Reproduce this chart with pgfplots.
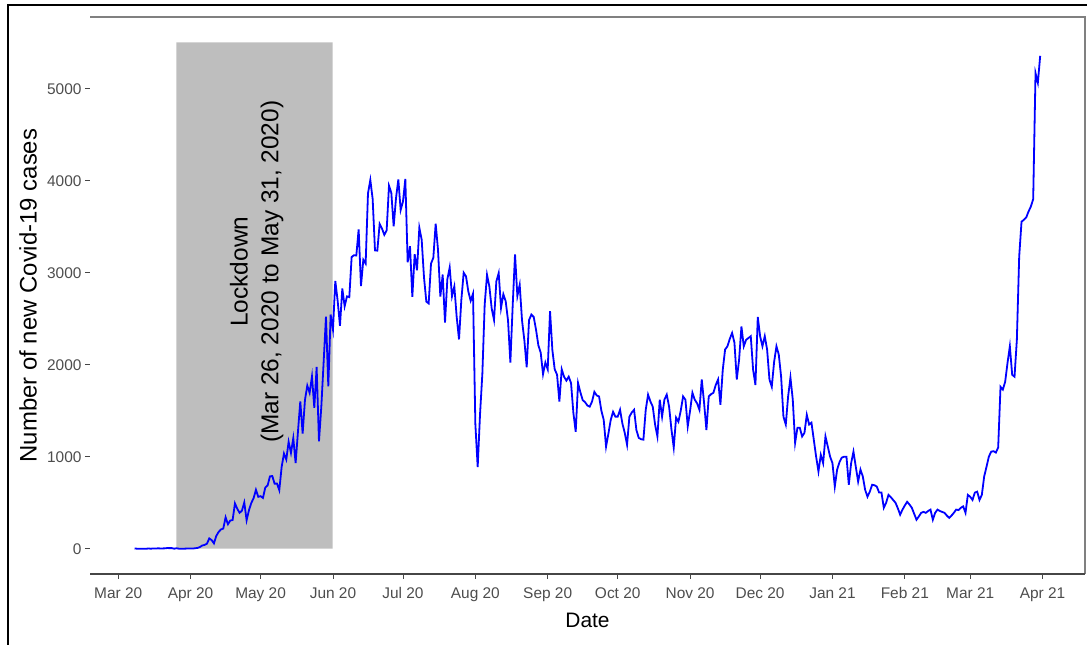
\documentclass[border=0pt]{standalone}
\usepackage{fontspec}
\setmainfont{Liberation Sans}
\usepackage{pgfplots}
\pgfplotsset{compat=1.18}
\definecolor{lockgray}{RGB}{190,190,190}
\definecolor{tickgray}{RGB}{77,77,77}
\definecolor{axgray}{RGB}{70,70,70}
\definecolor{framegray}{RGB}{128,128,128}
\begin{document}
\begin{tikzpicture}
\useasboundingbox (0bp,0bp) rectangle (1087bp,645bp);
\draw[black, line width=1.5bp] (8bp,0bp) -- (8bp,640bp) -- (1087bp,640bp);
\begin{axis}[
  at={(90bp,71bp)}, anchor=south west,
  scale only axis, width=995bp, height=557bp,
  xmin=-12.1, xmax=414.2, ymin=-275, ymax=5780,
  axis line style={draw=none},
  tick pos=left, tick align=outside,
  major tick length=5bp,
  every tick/.style={axgray, line width=0.9bp},
  xtick={0,31,61,92,122,153,184,214,245,275,306,337,365,396},
  xticklabels={Mar 20, Apr 20, May 20, Jun 20, Jul 20, Aug 20, Sep 20, Oct 20, Nov 20, Dec 20, Jan 21, Feb 21, Mar 21, Apr 21},
  ytick={0,1000,2000,3000,4000,5000},
  scaled y ticks=false,
  /pgf/number format/assume math mode=true,
  /pgf/number format/1000 sep={},
  ticklabel style={font=\fontsize{15.5}{18}\selectfont, text=tickgray},
  xticklabel style={yshift=-5bp},
  xlabel={Date},
  ylabel={Number of new Covid-19 cases},
  xlabel style={font=\fontsize{21}{24}\selectfont, at={(axis description cs:0.5,-0.0826)}, anchor=center},
  ylabel style={font=\fontsize{24}{28}\selectfont, at={(axis description cs:-0.0623,0.5)}, anchor=center},
  clip=false,
]
\addplot[draw=none, fill=lockgray] coordinates {(24.9,0) (24.9,5505) (91.8,5505) (91.8,0) (24.9,0)};
\node[rotate=90, align=center, font=\fontsize{24.5}{31}\selectfont] at (axis cs:59.3,3011) {Lockdown\\(Mar 26, 2020 to May 31, 2020)};
\addplot[blue, line width=1.8bp, mark=none] coordinates {
(7,3)(8,0)(9,0)(10,0)(11,0)(12,0)(13,2)(14,0)(15,3)(16,2)(17,4)(18,3)(19,3)(20,4)(21,7)(22,6)(23,6)(24,0)(25,5)(26,0)(27,0)(28,0)(29,1)(30,2)
(31,3)(32,2)(33,5)(34,9)(35,18)(36,35)(37,41)(38,54)(39,112)(40,94)(41,58)(42,139)(43,182)(44,209)(45,219)(46,341)(47,266)(48,306)(49,312)(50,492)(51,434)(52,390)(53,414)(54,503)(55,309)(56,418)(57,497)(58,549)(59,641)(60,564)
(61,571)(62,552)(63,665)(64,688)(65,786)(66,790)(67,706)(68,709)(69,636)(70,887)(71,1034)(72,969)(73,1162)(74,1041)(75,1202)(76,930)(77,1273)(78,1602)(79,1251)(80,1617)(81,1773)(82,1694)(83,1873)(84,1532)(85,1975)(86,1166)(87,1541)(88,2029)(89,2523)(90,1764)(91,2545)
(92,2381)(93,2911)(94,2695)(95,2423)(96,2828)(97,2635)(98,2743)(99,2735)(100,3171)(101,3190)(102,3187)(103,3471)(104,2856)(105,3141)(106,3099)(107,3862)(108,4008)(109,3803)(110,3243)(111,3240)(112,3531)(113,3480)(114,3412)(115,3462)(116,3946)(117,3868)(118,3504)(119,3809)(120,4014)(121,3682)
(122,3775)(123,4019)(124,3114)(125,3288)(126,2738)(127,3201)(128,3027)(129,3489)(130,3360)(131,2949)(132,2686)(133,2666)(134,3099)(135,3163)(136,3533)(137,3250)(138,2740)(139,2980)(140,2459)(141,2928)(142,3057)(143,2744)(144,2850)(145,2520)(146,2275)(147,2705)(148,3000)(149,2960)(150,2795)(151,2695)(152,2772)
(153,1356)(154,887)(155,1459)(156,1900)(157,2654)(158,2977)(159,2851)(160,2611)(161,2487)(162,2907)(163,2996)(164,2617)(165,2766)(166,2690)(167,2481)(168,2024)(169,2644)(170,3200)(171,2747)(172,2868)(173,2481)(174,2265)(175,1973)(176,2485)(177,2545)(178,2519)(179,2380)(180,2211)(181,2131)(182,1897)(183,2024)
(184,1950)(185,2582)(186,2158)(187,1950)(188,1892)(189,1600)(190,1950)(191,1870)(192,1827)(193,1870)(194,1800)(195,1476)(196,1270)(197,1800)(198,1700)(199,1615)(200,1593)(201,1557)(202,1544)(203,1600)(204,1705)(205,1666)(206,1655)(207,1500)(208,1400)(209,1110)(210,1250)(211,1400)(212,1488)(213,1436)
(214,1436)(215,1510)(216,1360)(217,1260)(218,1130)(219,1435)(220,1480)(221,1510)(222,1290)(223,1205)(224,1190)(225,1185)(226,1510)(227,1675)(228,1600)(229,1545)(230,1350)(231,1220)(232,1620)(233,1435)(234,1620)(235,1675)(236,1545)(237,1300)(238,1100)(239,1425)(240,1380)(241,1500)(242,1655)(243,1620)(244,1330)
(245,1500)(246,1695)(247,1620)(248,1580)(249,1510)(250,1840)(251,1585)(252,1290)(253,1655)(254,1680)(255,1695)(256,1780)(257,1840)(258,1565)(259,1945)(260,2165)(261,2200)(262,2280)(263,2345)(264,2240)(265,1840)(266,2055)(267,2415)(268,2200)(269,2270)(270,2290)(271,2310)(272,1945)(273,1780)(274,2520)
(275,2310)(276,2200)(277,2310)(278,2165)(279,1840)(280,1760)(281,2030)(282,2200)(283,2110)(284,1870)(285,1435)(286,1350)(287,1655)(288,1860)(289,1620)(290,1150)(291,1315)(292,1315)(293,1220)(294,1260)(295,1455)(296,1350)(297,1370)(298,1185)(299,1000)(300,840)(301,1020)(302,930)(303,1220)(304,1110)(305,1000)
(306,930)(307,675)(308,860)(309,940)(310,990)(311,1000)(312,1000)(313,695)(314,930)(315,1055)(316,890)(317,730)(318,860)(319,785)(320,640)(321,565)(322,620)(323,695)(324,690)(325,675)(326,610)(327,610)(328,445)(329,500)(330,585)(331,560)(332,530)(333,500)(334,440)(335,370)(336,425)
(337,470)(338,510)(339,480)(340,445)(341,380)(342,315)(343,350)(344,390)(345,400)(346,390)(347,410)(348,425)(349,315)(350,390)(351,425)(352,410)(353,400)(354,390)(355,360)(356,335)(357,360)(358,390)(359,425)(360,420)(361,445)(362,460)(363,390)(364,585)
(365,565)(366,530)(367,610)(368,620)(369,530)(370,585)(371,785)(372,890)(373,1000)(374,1055)(375,1060)(376,1045)(377,1100)(378,1760)(379,1730)(380,1815)(381,2020)(382,2200)(383,1890)(384,1870)(385,2270)(386,3175)(387,3555)(388,3575)(389,3600)(390,3665)(391,3720)(392,3800)(393,5170)(394,5065)(395,5358)
};
\draw[framegray, line width=1.4bp] (rel axis cs:0,1) -- (rel axis cs:1,1) -- (rel axis cs:1,0);
\draw[axgray, line width=1.1bp] (rel axis cs:0,0) -- (rel axis cs:1,0);
\end{axis}
\end{tikzpicture}
\end{document}
